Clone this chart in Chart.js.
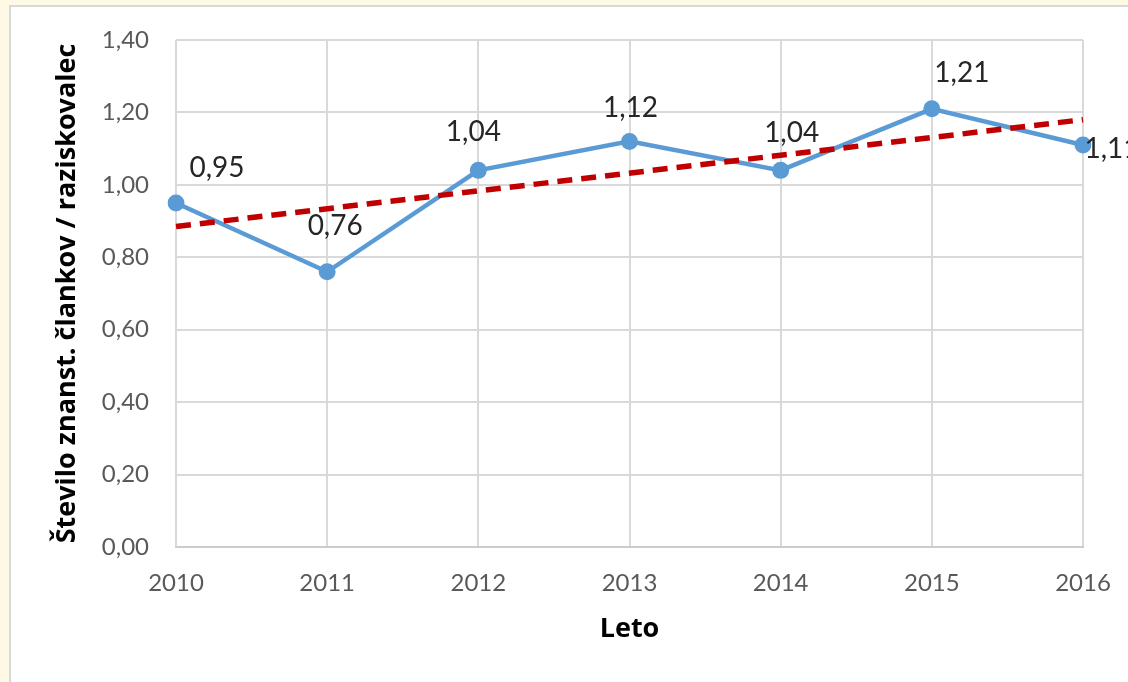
<!DOCTYPE html>
<html>
<head>
<meta charset="utf-8">
<script src="https://cdn.jsdelivr.net/npm/chart.js@4/dist/chart.umd.min.js"></script>
<style>
  html, body { margin: 0; padding: 0; background: #fdf9e4; overflow: hidden; }
  #box {
    position: absolute; left: 9px; top: 5px; width: 1130px; height: 690px;
    background: #fff; border-left: 2px solid #d9d9d9; border-top: 2px solid #d9d9d9;
  }
  #chart { position: absolute; left: 0; top: 0; }
</style>
</head>
<body>
<div id="box"><canvas id="chart" width="1117" height="675"></canvas></div>
<script>
const years = ["2010", "2011", "2012", "2013", "2014", "2015", "2016"];
const articlesPerResearcher = [0.95, 0.76, 1.04, 1.12, 1.04, 1.21, 1.11];
// linear trendline, only its two ends
const trendValues = [0.885, null, null, null, null, null, 1.18];
const yTicks = [0, 0.2, 0.4, 0.6, 0.8, 1.0, 1.2, 1.4];

// where each value label sits relative to its point (px)
const labelShift = [[41, -35], [8, -46], [-5, -38], [1, -33], [11, -37], [30, -36], [29, 4]];

const fmt = v => v.toFixed(2).replace('.', ',');

const pointLabels = {
  id: 'pointLabels',
  afterDatasetsDraw(chart) {
    const ctx = chart.ctx;
    const meta = chart.getDatasetMeta(1);
    ctx.save();
    ctx.font = '28px Lato';
    ctx.fillStyle = '#262626';
    ctx.textAlign = 'center';
    ctx.textBaseline = 'middle';
    meta.data.forEach((pt, i) => {
      ctx.fillText(fmt(articlesPerResearcher[i]), pt.x + labelShift[i][0], pt.y + labelShift[i][1]);
    });
    ctx.restore();
  }
};

new Chart(document.getElementById('chart'), {
  type: 'line',
  data: {
    labels: years,
    datasets: [
      {
        data: trendValues,
        spanGaps: true,
        borderColor: '#c00000',
        borderWidth: 5.5,
        borderDash: [15, 9],
        pointRadius: 0,
        order: 0
      },
      {
        data: articlesPerResearcher,
        borderColor: '#5b9bd5',
        backgroundColor: '#5b9bd5',
        borderWidth: 4.5,
        pointRadius: 8.5,
        pointBorderWidth: 0,
        order: 1
      }
    ]
  },
  options: {
    responsive: false,
    animation: false,
    layout: { padding: { top: 33, right: 45, left: 0, bottom: 0 } },
    plugins: { legend: { display: false }, tooltip: { enabled: false } },
    scales: {
      x: {
        offset: false,
        grid: { color: '#d9d9d9', lineWidth: 2, drawTicks: true, tickLength: 22, tickColor: 'rgba(0,0,0,0)' },
        border: { color: '#cccccc', width: 2 },
        ticks: { color: '#595959', font: { family: 'Lato', size: 24 }, padding: 0, maxRotation: 0 },
        title: {
          display: true, text: 'Leto', color: '#000',
          font: { family: 'Open Sans', size: 27, weight: 'bold' },
          padding: { bottom: 36 }
        },
        afterFit: s => { s.height = 135; }
      },
      y: {
        min: 0, max: 1.4,
        afterBuildTicks: s => { s.ticks = yTicks.map(v => ({ value: v })); },
        grid: { color: '#d9d9d9', lineWidth: 2, drawTicks: true, tickLength: 27, tickColor: 'rgba(0,0,0,0)' },
        border: { display: false },
        ticks: { color: '#595959', font: { family: 'Lato', size: 24 }, padding: 0, callback: v => fmt(v) },
        title: {
          display: true, text: 'Število znanst. člankov / raziskovalec', color: '#000',
          font: { family: 'Open Sans', size: 27, weight: 'bold' },
          padding: { top: 40 }
        },
        afterFit: s => { s.width = 165; }
      }
    }
  },
  plugins: [pointLabels]
});
</script>
</body>
</html>
